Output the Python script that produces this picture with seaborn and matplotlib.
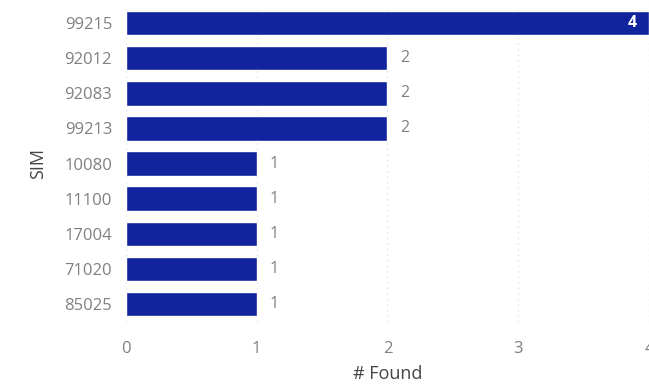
import matplotlib
matplotlib.use("Agg")
import matplotlib.pyplot as plt
import seaborn as sns
import pandas as pd

# chart data
sim_codes = ["99215", "92012", "92083", "99213", "10080", "11100", "17004", "71020", "85025"]
found_counts = [4, 2, 2, 2, 1, 1, 1, 1, 1]
x_ticks = [0, 1, 2, 3, 4]

df = pd.DataFrame({"SIM": sim_codes, "# Found": found_counts})

sns.set_style("white")
plt.rcParams["font.family"] = ["Open Sans", "DejaVu Sans"]

bar_color = "#12239E"
tick_color = "#808080"

fig = plt.figure(figsize=(6.49, 3.88), dpi=100)
ax = fig.add_axes([0.194, 0.171, 0.806, 0.815])

sns.barplot(data=df, x="# Found", y="SIM", order=sim_codes, color=bar_color,
            saturation=1, width=0.7, ax=ax)

ax.set_xlim(0, 4)
ax.set_xticks(x_ticks)
ax.set_xticklabels([str(t) for t in x_ticks])
ax.xaxis.grid(True, linestyle=(0, (1, 3)), color="#e0e0e0", linewidth=1)
ax.set_axisbelow(True)
for s in ax.spines.values():
    s.set_visible(False)
ax.tick_params(axis="both", length=0, colors=tick_color, labelsize=12)
ax.tick_params(axis="x", pad=14)
ax.tick_params(axis="y", pad=10)

# value labels
xmax = ax.get_xlim()[1]
for i, v in enumerate(found_counts):
    if v >= xmax * 0.9:
        ax.text(v - 0.09, i, str(v), va="center", ha="right", color="white",
                fontsize=11.5, fontweight="bold")
    else:
        ax.text(v + 0.1, i, str(v), va="center", ha="left", color=tick_color, fontsize=11.5)

ax.set_xlabel("# Found", fontsize=13, color="#444444", labelpad=6)
ax.set_ylabel("SIM", fontsize=13, color="#444444", labelpad=12)

fig.savefig("out.png", dpi=100)
